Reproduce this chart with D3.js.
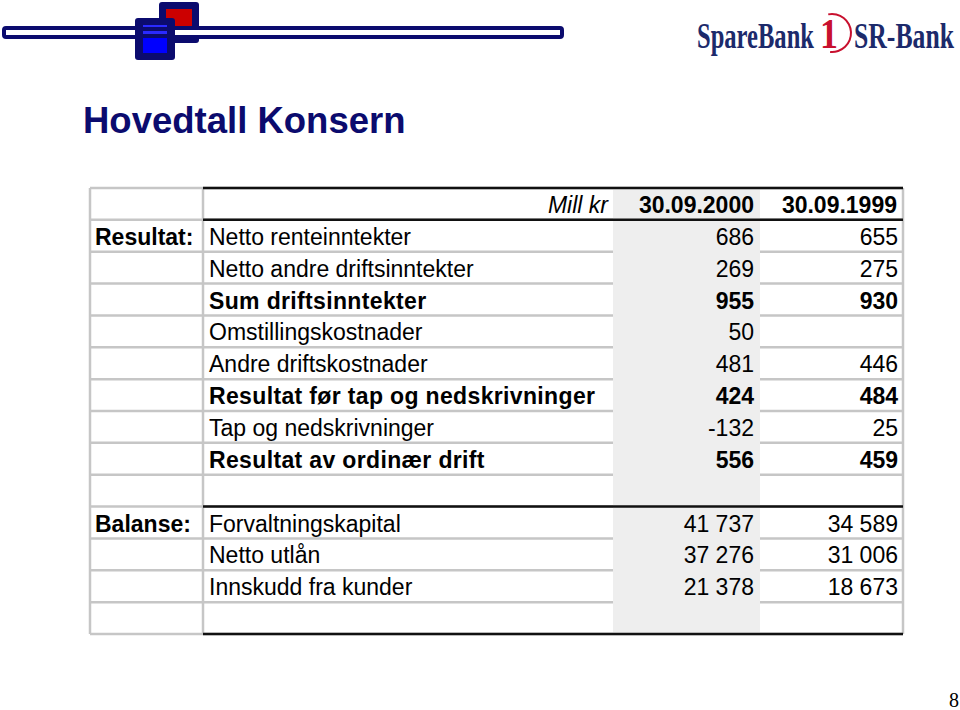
<!DOCTYPE html>
<html>
<head>
<meta charset="utf-8">
<script src="https://cdn.jsdelivr.net/npm/d3@7"></script>
<style>
  html, body { margin: 0; padding: 0; background: #fff; }
  svg { display: block; }
</style>
</head>
<body>
<svg id="chart" width="960" height="710"></svg>
<script>
// data
var title = 'Hovedtall Konsern';
var unitLabel = 'Mill kr';
var periods = ['30.09.2000', '30.09.1999'];
var rowLabels = ['Netto renteinntekter', 'Netto andre driftsinntekter', 'Sum driftsinntekter',
    'Omstillingskostnader', 'Andre driftskostnader', 'Resultat før tap og nedskrivninger',
    'Tap og nedskrivninger', 'Resultat av ordinær drift', '',
    'Forvaltningskapital', 'Netto utlån', 'Innskudd fra kunder', ''];
var values2000 = [686, 269, 955, 50, 481, 424, -132, 556, null, 41737, 37276, 21378, null];
var values1999 = [655, 275, 930, null, 446, 484, 25, 459, null, 34589, 31006, 18673, null];
var boldRows = [2, 5, 7];
var sectionLabels = ['Resultat:', 'Balanse:'];
var sectionStart = [0, 9];
var pageNumber = '8';

var svg = d3.select('#chart');
var sans = 'Liberation Sans, Arial, sans-serif';
var serif = 'Liberation Serif, Times New Roman, serif';
var navy = '#0b0b6e';

// ---- top left logo strip ----
var logo = svg.append('g');
logo.append('rect').attr('x', 159).attr('y', 2).attr('width', 40).attr('height', 41)
    .attr('rx', 3).attr('fill', navy);
logo.append('rect').attr('x', 166).attr('y', 9).attr('width', 26).attr('height', 26).attr('fill', '#cc0000');
logo.append('rect').attr('x', 4).attr('y', 28).attr('width', 558).attr('height', 9)
    .attr('rx', 2).attr('fill', '#fff').attr('stroke', navy).attr('stroke-width', 4);
logo.append('rect').attr('x', 135).attr('y', 18).attr('width', 40).attr('height', 42)
    .attr('rx', 3).attr('fill', navy);
logo.append('rect').attr('x', 143).attr('y', 38).attr('width', 24).attr('height', 15).attr('fill', '#0000ff');
logo.append('rect').attr('x', 143).attr('y', 25).attr('width', 24).attr('height', 2).attr('fill', '#2a2aff');
logo.append('rect').attr('x', 143).attr('y', 31).attr('width', 24).attr('height', 3).attr('fill', '#2a2aff');

// ---- top right bank logo ----
// squeeze a word into a given width with a horizontal scale (keeps the box honest)
function squeezed(g, txt, x, yb, size, width, color) {
    var t = g.append('text').attr('x', 0).attr('y', 0).attr('font-size', size).attr('fill', color).text(txt);
    var w = t.node().getComputedTextLength();
    t.attr('transform', 'translate(' + x + ',' + yb + ') scale(' + (width / w) + ',1)');
    return t;
}
var bank = svg.append('g').attr('font-family', serif).attr('font-weight', 'bold');
squeezed(bank, 'SpareBank', 697, 48, 36, 117, '#1c2a6b');
squeezed(bank, '1', 820, 48, 42, 18, '#c8102e');
bank.append('path')
    .attr('d', d3.arc()({innerRadius: 18, outerRadius: 20, startAngle: -0.2, endAngle: Math.PI + 0.1}))
    .attr('transform', 'translate(832,33)').attr('fill', '#c8102e');
squeezed(bank, 'SR-Bank', 854, 48, 36, 100, '#1c2a6b');

// ---- title ----
svg.append('text').attr('x', 83).attr('y', 133)
    .attr('font-family', sans).attr('font-weight', 'bold').attr('font-size', 36.5)
    .attr('fill', navy).text(title);

// ---- table ----
var rowIndex = d3.range(rowLabels.length + 1); // header + data rows
var y = d3.scaleBand().domain(rowIndex).range([188, 634]);
var edges = {left: 90, label: 203, c2000: 613, c1999: 760, right: 903};
var gridGrey = '#c6c6c6';

var nf = d3.formatLocale({decimal: ',', thousands: ' ', grouping: [3], currency: ['', ''], minus: '-'}).format(',d');

var table = svg.append('g');

// grey grid
var bounds = d3.range(rowIndex.length + 1).map(function (i) {
    return i < rowIndex.length ? y(i) : y.range()[1];
});
table.selectAll('line.h').data(bounds).enter().append('line')
    .attr('x1', edges.left).attr('x2', edges.right)
    .attr('y1', function (d) { return d; }).attr('y2', function (d) { return d; })
    .attr('stroke', gridGrey).attr('stroke-width', 2.5);
table.selectAll('line.v').data([edges.left, edges.label, edges.right]).enter().append('line')
    .attr('x1', function (d) { return d; }).attr('x2', function (d) { return d; })
    .attr('y1', bounds[0]).attr('y2', bounds[bounds.length - 1])
    .attr('stroke', gridGrey).attr('stroke-width', 2.5);

// shaded 2000 column
table.append('rect').attr('x', edges.c2000).attr('y', bounds[0])
    .attr('width', edges.c1999 - edges.c2000).attr('height', bounds[bounds.length - 1] - bounds[0])
    .attr('fill', '#eeeeee');

// black rules
var blackRows = [0, 1, sectionStart[1] + 1, rowIndex.length];
table.selectAll('line.b').data(blackRows).enter().append('line')
    .attr('x1', edges.label).attr('x2', edges.right)
    .attr('y1', function (d) { return bounds[d]; }).attr('y2', function (d) { return bounds[d]; })
    .attr('stroke', '#111').attr('stroke-width', 2.5);

var fs = 23;
var base = 25;

// header
var header = table.append('g').attr('font-family', sans).attr('font-size', fs).attr('fill', '#000');
header.append('text').attr('x', edges.c2000 - 5).attr('y', y(0) + base)
    .attr('text-anchor', 'end').attr('font-style', 'italic').text(unitLabel);
header.selectAll('text.p').data(periods).enter().append('text')
    .attr('x', function (d, i) { return (i == 0 ? edges.c1999 : edges.right) - 6; })
    .attr('y', y(0) + base).attr('text-anchor', 'end').attr('font-weight', 'bold')
    .text(function (d) { return d; });

// section labels
table.selectAll('text.s').data(sectionLabels).enter().append('text')
    .attr('x', edges.left + 5)
    .attr('y', function (d, i) { return y(sectionStart[i] + 1) + base; })
    .attr('font-family', sans).attr('font-size', fs).attr('font-weight', 'bold')
    .text(function (d) { return d; });

// rows
var rows = table.selectAll('g.row').data(rowLabels).enter().append('g')
    .attr('font-family', sans).attr('font-size', fs)
    .attr('font-weight', function (d, i) { return boldRows.indexOf(i) >= 0 ? 'bold' : 'normal'; })
    .attr('transform', function (d, i) { return 'translate(0,' + (y(i + 1) + base) + ')'; });
rows.append('text').attr('x', edges.label + 6)
    .attr('letter-spacing', function (d, i) { return boldRows.indexOf(i) >= 0 ? 0.35 : 0; })
    .text(function (d) { return d; });
rows.append('text').attr('x', edges.c1999 - 6).attr('text-anchor', 'end')
    .text(function (d, i) { return values2000[i] == null ? '' : nf(values2000[i]); });
rows.append('text').attr('x', edges.right - 5).attr('text-anchor', 'end')
    .text(function (d, i) { return values1999[i] == null ? '' : nf(values1999[i]); });

// page number
svg.append('text').attr('x', 959).attr('y', 707).attr('text-anchor', 'end')
    .attr('font-family', serif).attr('font-size', 20).text(pageNumber);
</script>
</body>
</html>
